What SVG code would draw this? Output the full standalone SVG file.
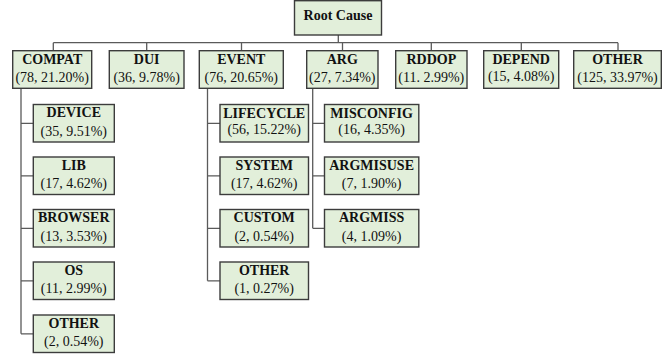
<svg xmlns="http://www.w3.org/2000/svg" width="666" height="360" viewBox="0 0 666 360">
<style>
.box{fill:#e2efda;stroke:#3c3c3c;stroke-width:1.4}
.t{font-family:"Liberation Serif","Times New Roman",serif;font-weight:bold;font-size:14px;fill:#111;text-anchor:middle}
.n{font-family:"Liberation Serif","Times New Roman",serif;font-size:14px;fill:#111;text-anchor:middle}
.c{fill:none;stroke:#5a5a5a;stroke-width:1.3}
</style>
<rect width="666" height="360" fill="#fff"/>
<g id="connectors">
<path class="c" d="M338.3 35V42.7M53.3 42.7H618M53.3 42.7V50.7M146.7 42.7V50.7M241.5 42.7V50.7M342.5 42.7V50.7M431.3 42.7V50.7M521.3 42.7V50.7M618 42.7V50.7"/>
<path class="c" d="M21 88.3V333.8M21 123.3H33.3M21 175.8H33.3M21 228.3H33.3M21 280.8H33.3M21 333.8H33.3"/>
<path class="c" d="M207.5 88.3V280.8M207.5 123.3H220M207.5 175.8H220M207.5 228.3H220M207.5 280.8H220"/>
<path class="c" d="M312.7 88.3V228.3M312.7 123.3H324.5M312.7 175.8H324.5M312.7 228.3H324.5"/>
</g>
<g id="root"><rect class="box" x="294.5" y="0.7" width="87" height="34.3"/><text class="t" x="338" y="20">Root Cause</text></g>
<g id="compat"><rect class="box" x="12.7" y="50.7" width="79" height="37.6"/><text class="t" x="52.2" y="63.8">COMPAT</text><text class="n" x="52.2" y="82">(78, 21.20%)</text></g>
<g id="dui"><rect class="box" x="109.3" y="50.7" width="74.7" height="37.6"/><text class="t" x="146.7" y="63.8">DUI</text><text class="n" x="146.7" y="82">(36, 9.78%)</text></g>
<g id="event"><rect class="box" x="199.3" y="50.7" width="84" height="37.6"/><text class="t" x="241.3" y="63.8">EVENT</text><text class="n" x="241.3" y="82">(76, 20.65%)</text></g>
<g id="arg"><rect class="box" x="306.7" y="50.7" width="71.3" height="37.6"/><text class="t" x="342.3" y="63.8">ARG</text><text class="n" x="342.3" y="82">(27, 7.34%)</text></g>
<g id="rddop"><rect class="box" x="395.7" y="50.7" width="71.3" height="37.6"/><text class="t" x="431.3" y="63.8">RDDOP</text><text class="n" x="431.3" y="82">(11. 2.99%)</text></g>
<g id="depend"><rect class="box" x="483.7" y="50.7" width="75" height="37.6"/><text class="t" x="521.2" y="63.8">DEPEND</text><text class="n" x="521.2" y="80.5">(15, 4.08%)</text></g>
<g id="other"><rect class="box" x="573.7" y="50.7" width="87.6" height="37.6"/><text class="t" x="617.5" y="63.8">OTHER</text><text class="n" x="617.5" y="82">(125, 33.97%)</text></g>
<g id="device"><rect class="box" x="33.3" y="104.5" width="81" height="37.5"/><text class="t" x="73.8" y="117.3">DEVICE</text><text class="n" x="73.8" y="135.5">(35, 9.51%)</text></g>
<g id="lib"><rect class="box" x="33.3" y="157" width="81" height="37.5"/><text class="t" x="73.8" y="169.8">LIB</text><text class="n" x="73.8" y="188">(17, 4.62%)</text></g>
<g id="browser"><rect class="box" x="33.3" y="209.5" width="81" height="37.5"/><text class="t" x="73.8" y="222.3">BROWSER</text><text class="n" x="73.8" y="240.5">(13, 3.53%)</text></g>
<g id="os"><rect class="box" x="33.3" y="262" width="81" height="37.5"/><text class="t" x="73.8" y="274.8">OS</text><text class="n" x="73.8" y="293">(11, 2.99%)</text></g>
<g id="compat-other"><rect class="box" x="33.3" y="315" width="81" height="37.5"/><text class="t" x="73.8" y="327.8">OTHER</text><text class="n" x="73.8" y="346">(2, 0.54%)</text></g>
<g id="lifecycle"><rect class="box" x="220" y="104.5" width="88.5" height="37.5"/><text class="t" x="264.2" y="117.8" textLength="82" lengthAdjust="spacingAndGlyphs">LIFECYCLE</text><text class="n" x="264.2" y="134">(56, 15.22%)</text></g>
<g id="system"><rect class="box" x="220" y="157" width="88.5" height="37.5"/><text class="t" x="264.2" y="169.8">SYSTEM</text><text class="n" x="264.2" y="188">(17, 4.62%)</text></g>
<g id="custom"><rect class="box" x="220" y="209.5" width="88.5" height="37.5"/><text class="t" x="264.2" y="222.3">CUSTOM</text><text class="n" x="264.2" y="240.5">(2, 0.54%)</text></g>
<g id="event-other"><rect class="box" x="220" y="262" width="88.5" height="37.5"/><text class="t" x="264.2" y="274.8">OTHER</text><text class="n" x="264.2" y="293">(1, 0.27%)</text></g>
<g id="misconfig"><rect class="box" x="324.5" y="104.5" width="94.3" height="37.5"/><text class="t" x="371.6" y="117.8">MISCONFIG</text><text class="n" x="371.6" y="134">(16, 4.35%)</text></g>
<g id="argmisuse"><rect class="box" x="324.5" y="157" width="94.3" height="37.5"/><text class="t" x="371.6" y="169.8">ARGMISUSE</text><text class="n" x="371.6" y="188">(7, 1.90%)</text></g>
<g id="argmiss"><rect class="box" x="324.5" y="209.5" width="94.3" height="37.5"/><text class="t" x="371.6" y="222.3">ARGMISS</text><text class="n" x="371.6" y="240.5">(4, 1.09%)</text></g>
</svg>
